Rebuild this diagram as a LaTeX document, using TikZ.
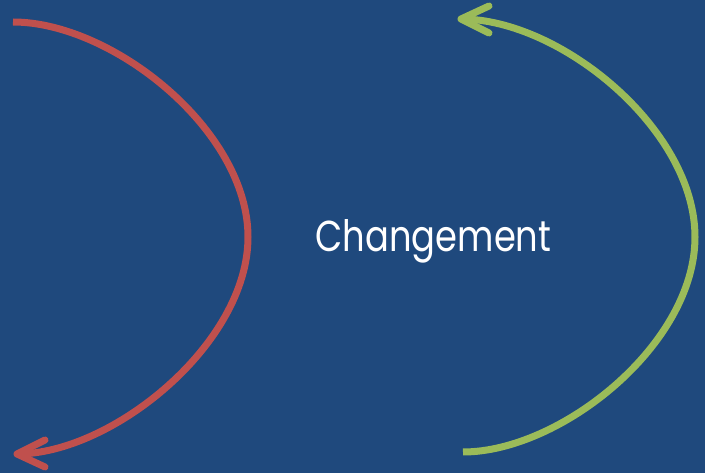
\documentclass[tikz,border=0pt]{standalone}
\usepackage{fontspec}
\setmainfont{Poppins}
\definecolor{bg}{HTML}{1F497D}
\definecolor{arcred}{HTML}{C0504D}
\definecolor{arcgreen}{HTML}{9BBB59}
\begin{document}
\begin{tikzpicture}[x=1pt,y=-1pt,
  arcline/.style={line width=7pt, line join=round},
  barb/.style={line width=7pt, line cap=round, line join=round},
  label/.style={anchor=base, text=white, inner sep=0pt, font=\fontsize{42}{50}\selectfont}]
\fill[bg] (0,0) rectangle (705,473);
\useasboundingbox (0,0) rectangle (705,473);
% red arc
\coordinate (r0) at (13,22);
\coordinate (r1) at (248,237);
\coordinate (r2) at (17,454);
\coordinate (ra1) at (45,440);
\coordinate (ra2) at (45,467);
\draw[arcline, arcred] (r0) .. controls (112,22) and (248,130) .. (r1)
  .. controls (248,344) and (112,454) .. (r2);
\draw[barb, arcred] (ra1) -- (r2) -- (ra2);
% green arc
\coordinate (g0) at (463,452);
\coordinate (g1) at (695,237);
\coordinate (g2) at (461,19);
\coordinate (ga1) at (489,6);
\coordinate (ga2) at (489,33);
\draw[arcline, arcgreen] (g0) .. controls (560,452) and (695,345) .. (g1)
  .. controls (695,129) and (560,19) .. (g2);
\draw[barb, arcgreen] (ga1) -- (g2) -- (ga2);
% label
\node[label] (lbl) at (433.5,252) {\scalebox{0.84}[1.03]{Changement}};
\end{tikzpicture}
\end{document}
